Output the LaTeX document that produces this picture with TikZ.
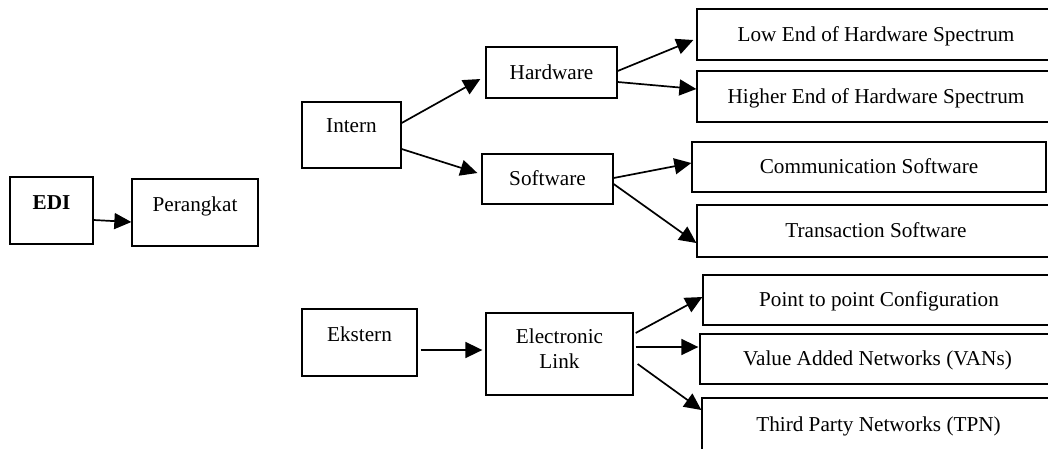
\documentclass[tikz,border=0pt]{standalone}
\usepackage{fontspec}
\setmainfont{Liberation Serif}
\usetikzlibrary{arrows.meta,calc}

\tikzset{
  box/.style={draw, line width=1.3pt, rectangle, inner sep=0pt,
    text height=14pt, text depth=1pt,
    font=\fontsize{21.2}{25}\selectfont},
  raised/.style={text depth=#1},
  arr/.style={line width=1.7pt, -{Triangle[length=17pt,width=16pt]}}
}

\begin{document}
\begin{tikzpicture}[x=1pt,y=-1pt]
  \useasboundingbox (0,0) rectangle (1048,448);
  \clip (0,0) rectangle (1048,448);

  % left part
  \node[box, raised=17pt, minimum width=83pt, minimum height=67pt] (edi) at (51.5,210.5) {\bfseries EDI};
  \node[box, raised=17pt, minimum width=126pt, minimum height=67pt] (per) at (195,212.5) {Perangkat};

  % internal branch
  \node[box, raised=19pt, minimum width=99pt, minimum height=66pt] (intern) at (351.5,135) {Intern};
  \node[box, minimum width=131pt, minimum height=51pt] (hw) at (551.5,72.5) {Hardware};
  \node[box, minimum width=131pt, minimum height=50pt] (sw) at (547.5,179) {Software};

  \node[box, minimum width=358pt, minimum height=51pt] (low) at (876,34.5) {Low End of Hardware Spectrum};
  \node[box, minimum width=358pt, minimum height=51pt] (high) at (876,96.5) {Higher End of Hardware Spectrum};
  \node[box, minimum width=354pt, minimum height=50pt] (comm) at (869,167) {Communication Software};
  \node[box, minimum width=358pt, minimum height=52pt] (trans) at (876,231) {Transaction Software};

  % external branch
  \node[box, raised=17pt, minimum width=115pt, minimum height=67pt] (ekstern) at (359.5,342.5) {Ekstern};
  \node[draw, line width=1.3pt, rectangle, inner sep=0pt, align=center,
        font=\fontsize{21.2}{25}\selectfont, text depth=11pt,
        minimum width=147pt, minimum height=82pt] (link) at (559.5,354) {Electronic\\Link};

  \node[box, minimum width=352pt, minimum height=50pt] (p2p) at (879,300) {Point to point Configuration};
  \node[box, minimum width=355pt, minimum height=50pt] (van) at (877.5,359) {Value Added Networks (VANs)};
  \node[box, minimum width=353pt, minimum height=54pt] (tpn) at (878.5,425) {Third Party Networks (TPN)};

  % connectors
  \draw[arr] ($(edi.east)+(0,9.5)$) -- ($(per.west)+(0,9.5)$);

  \draw[arr] ($(intern.east)+(0,-12)$) -- ($(hw.west)+(-5,6.5)$);
  \draw[arr] ($(intern.east)+(0,14)$) -- ($(sw.west)+(-4,-6)$);

  \draw[arr] ($(hw.east)+(0,-1.5)$) -- ($(low.west)+(-3,5.5)$);
  \draw[arr] ($(hw.east)+(0,9.5)$) -- ($(high.west)+(0,-7.5)$);

  \draw[arr] ($(sw.east)+(0,-1)$) -- ($(comm.west)+(0,-4)$);
  \draw[arr] ($(sw.east)+(0,5)$) -- ($(trans.west)+(0,12)$);

  \draw[arr] ($(ekstern.east)+(3,7.5)$) -- ($(link.west)+(-3,-4)$);

  \draw[arr] ($(link.east)+(2,-21)$) -- ($(p2p.west)+(0,-3)$);
  \draw[arr] ($(link.east)+(2,-7)$) -- ($(van.west)+(-1,-12)$);
  \draw[arr] ($(link.east)+(4,10)$) -- ($(tpn.west)+(0,-15)$);
\end{tikzpicture}
\end{document}
